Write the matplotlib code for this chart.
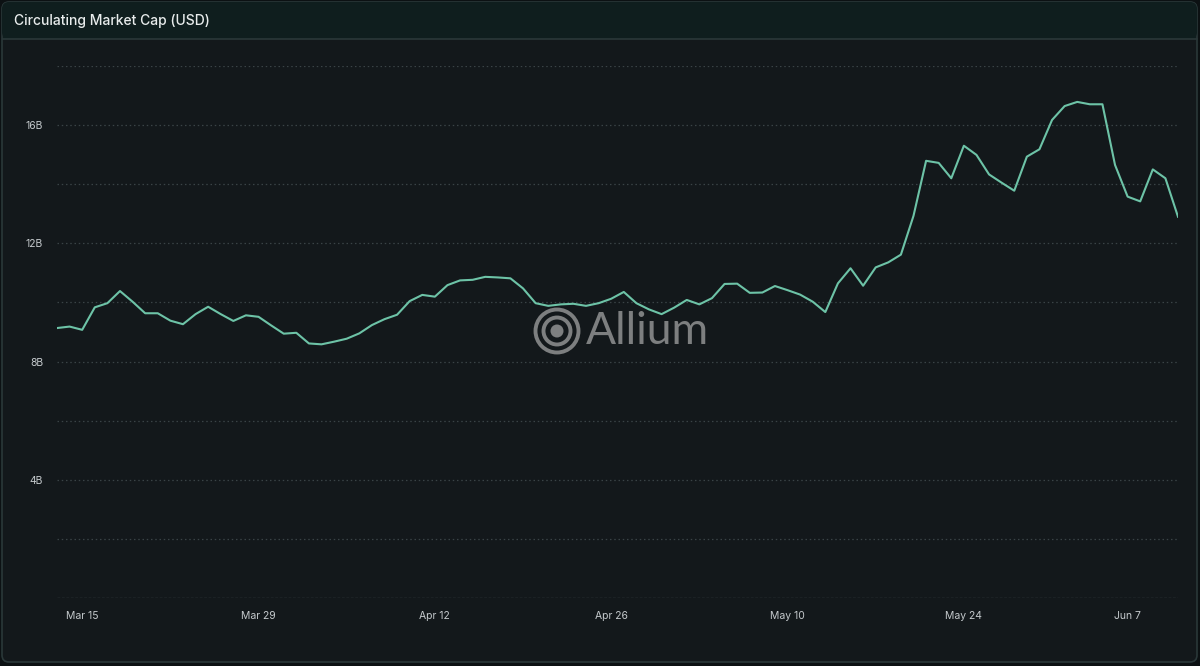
import matplotlib
matplotlib.use("Agg")
import matplotlib.pyplot as plt
from matplotlib.patches import FancyBboxPatch, Rectangle, Circle
import pandas as pd
import numpy as np

# ---------------- data ----------------
title = "Circulating Market Cap (USD)"
all_days = pd.date_range("2024-03-13", "2024-06-11", freq="D")
missing_days = [pd.Timestamp("2024-06-01")]
dates = [d for d in all_days if d not in missing_days]

market_cap_b = [
    9.13, 9.18, 9.07, 9.83, 9.97, 10.38, 10.02, 9.63, 9.63, 9.38,
    9.26, 9.60, 9.85, 9.60, 9.37, 9.56, 9.51, 9.22, 8.94, 8.97,
    8.61, 8.58, 8.67, 8.77, 8.95, 9.23, 9.43, 9.58, 10.04, 10.25,
    10.19, 10.58, 10.74, 10.76, 10.86, 10.84, 10.81, 10.47, 9.97, 9.88,
    9.93, 9.95, 9.88, 9.97, 10.12, 10.35, 9.97, 9.76, 9.60, 9.82,
    10.08, 9.93, 10.14, 10.62, 10.63, 10.32, 10.33, 10.55, 10.41, 10.26,
    10.02, 9.67, 10.64, 11.15, 10.56, 11.18, 11.35, 11.61, 12.92, 14.78,
    14.71, 14.19, 15.29, 14.98, 14.32, 14.04, 13.77, 14.92, 15.17, 16.16,
    16.63, 16.77, 16.69, 16.69, 14.64, 13.57, 13.41, 14.49, 14.19, 12.89,
]

xtick_dates = ["2024-03-15", "2024-03-29", "2024-04-12", "2024-04-26",
               "2024-05-10", "2024-05-24", "2024-06-07"]
ytick_major = [4, 8, 12, 16]
ytick_labels = ["4B", "8B", "12B", "16B"]
grid_levels = [2, 4, 6, 8, 10, 12, 14, 16, 18]

# ---------------- style ----------------
W, H = 1200, 666
outer_bg = "#0c1113"
panel_bg = "#13181b"
title_bg = "#0f1e1e"
border = "#2a3839"
line_c = "#6dc3a7"
grid_c = "#3a4346"
tick_c = "#c4c9cc"
wm_c = "#7d7f80"

plt.rcParams["font.family"] = ["Inter", "DejaVu Sans"]

fig = plt.figure(figsize=(W / 100, H / 100), dpi=100, facecolor=outer_bg)

# background / frame axes in pixel coordinates
bg = fig.add_axes([0, 0, 1, 1], zorder=0)
bg.set_xlim(0, W)
bg.set_ylim(H, 0)
bg.axis("off")

bg.add_patch(FancyBboxPatch((2, 2), W - 5, H - 6,
                            boxstyle="round,pad=0,rounding_size=7",
                            facecolor=panel_bg, edgecolor=border, linewidth=1.2))
bg.add_patch(FancyBboxPatch((2, 2), W - 5, 37,
                            boxstyle="round,pad=0,rounding_size=7",
                            facecolor=title_bg, edgecolor="none"))
bg.add_patch(Rectangle((3, 30), W - 7, 9, facecolor=title_bg, edgecolor="none"))
bg.plot([3, W - 3], [39, 39], color=border, lw=1.2)
bg.text(14, 20.5, title, color="#e8ecec", fontsize=10, fontweight="medium",
        va="center", ha="left")

# watermark
cx, cy = 557, 331
bg.add_patch(Circle((cx, cy), 21.5, facecolor="none", edgecolor=wm_c, lw=2.8))
bg.add_patch(Circle((cx, cy), 13.5, facecolor="none", edgecolor=wm_c, lw=2.8))
bg.add_patch(Circle((cx, cy), 6.5, facecolor=wm_c, edgecolor="none"))
bg.text(586, cy + 1, "Allium", color=wm_c, fontsize=32, family=["Lato", "DejaVu Sans"],
        fontweight="normal", va="center", ha="left")

# main axes
left, right = 57 / W, 1178 / W
bottom, top = 1 - 598.3 / H, 1 - 65.5 / H
ax = fig.add_axes([left, bottom, right - left, top - bottom], zorder=1)
ax.set_facecolor("none")

x = np.arange(len(market_cap_b))
ax.plot(x, market_cap_b, color=line_c, lw=1.5, solid_joinstyle="round", zorder=3)

ax.set_xlim(0, len(market_cap_b) - 1)
ax.set_ylim(0, 18)

for g in grid_levels:
    ax.axhline(g, color=grid_c, lw=0.9, ls=(0, (1.2, 2.2)), zorder=1)
ax.axhline(0, color="#3f484b", lw=1.0, ls=(0, (2, 1.2)), zorder=1)

date_index = {d: i for i, d in enumerate(dates)}
xt = [date_index[pd.Timestamp(d)] for d in xtick_dates]
ax.set_xticks(xt)
ax.set_xticklabels([pd.Timestamp(d).strftime("%b ") + str(pd.Timestamp(d).day) for d in xtick_dates])
ax.set_yticks(ytick_major)
ax.set_yticklabels(ytick_labels)
ax.tick_params(axis="both", length=0, colors=tick_c, labelsize=7.5)
ax.tick_params(axis="y", pad=10)
ax.tick_params(axis="x", pad=9)
for s in ax.spines.values():
    s.set_visible(False)

fig.savefig("out.png", dpi=100, facecolor=outer_bg)
